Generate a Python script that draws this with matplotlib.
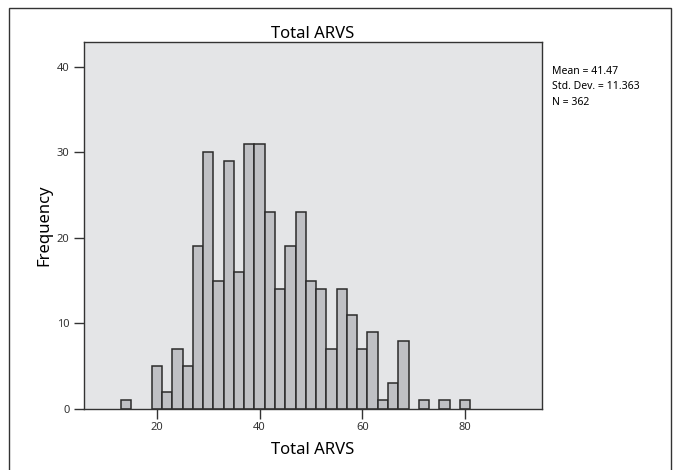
import matplotlib.pyplot as plt
from matplotlib.patches import Rectangle

# histogram bins (centre of each 2-unit bin) and counts
bin_centers = [14, 20, 22, 24, 26, 28, 30, 32, 34, 36, 38, 40, 42, 44, 46,
               48, 50, 52, 54, 56, 58, 60, 62, 64, 66, 68, 72, 76, 80]
counts = [1, 5, 2, 7, 5, 19, 30, 15, 29, 16, 31, 31, 23, 14, 19,
          23, 15, 14, 7, 14, 11, 7, 9, 1, 3, 8, 1, 1, 1]
bin_width = 2
x_ticks = [20, 40, 60, 80]
y_ticks = [0, 10, 20, 30, 40]
stats_lines = ['Mean = 41.47', 'Std. Dev. = 11.363', 'N = 362']

plt.rcParams['font.family'] = ['Noto Sans', 'DejaVu Sans']

fig = plt.figure(figsize=(6.78, 4.70), dpi=100)
fig.patches.append(Rectangle((9 / 678, -0.05), 662 / 678, 1.05 - 8 / 470,
                             transform=fig.transFigure, fill=False,
                             edgecolor='#333333', linewidth=1.0))

ax = fig.add_axes([84 / 678, 61 / 470, 458 / 678, 367 / 470])
ax.set_facecolor('#e4e5e7')
ax.bar(bin_centers, counts, width=bin_width, color='#bfc0c4',
       edgecolor='#2b2b2b', linewidth=1.1)

ax.set_xlim(5.8, 95)
ax.set_ylim(0, 42.9)
ax.set_xticks(x_ticks)
ax.set_yticks(y_ticks)
ax.tick_params(axis='both', labelsize=8, length=7, width=1.0,
               color='#333333', labelcolor='#333333')
ax.tick_params(axis='x', pad=2)
for s in ax.spines.values():
    s.set_linewidth(1.0)
    s.set_color('#333333')

ax.set_title('Total ARVS', fontsize=12, pad=2)
ax.set_xlabel('Total ARVS', fontsize=12, labelpad=7)
ax.set_ylabel('Frequency', fontsize=12, labelpad=3)

fig.text(552 / 678, 1 - 66 / 470, '\n'.join(stats_lines), fontsize=7.5,
         va='top', ha='left', linespacing=1.55)

fig.savefig('out.png', dpi=100)
